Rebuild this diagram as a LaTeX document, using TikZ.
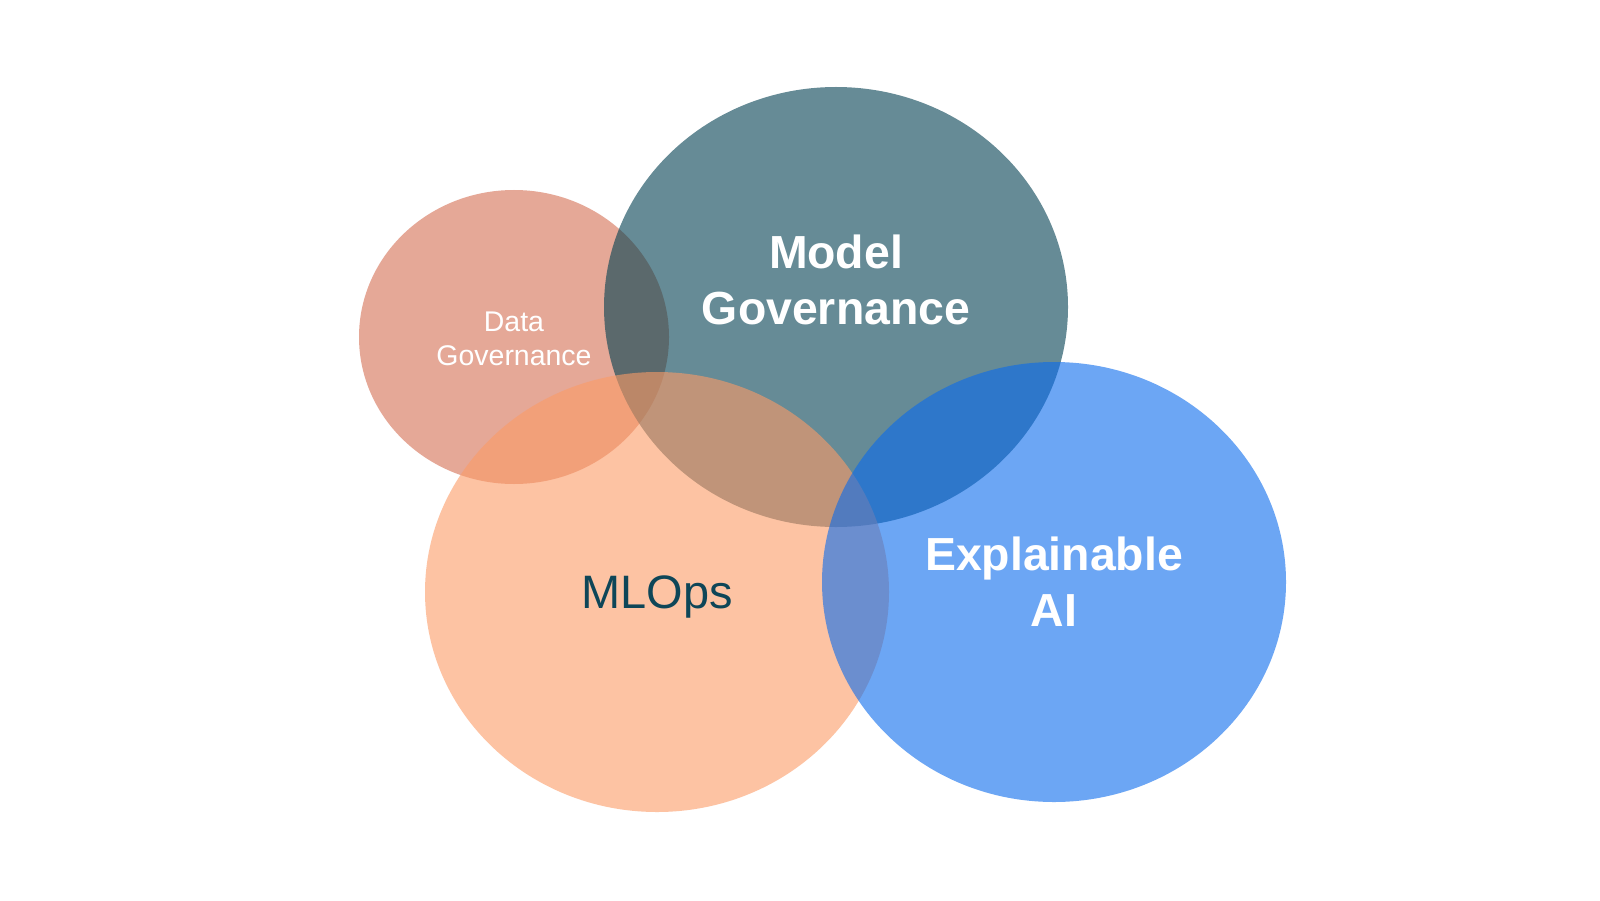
\documentclass[tikz,border=0pt]{standalone}
\usepackage{fontspec}
\setmainfont{Liberation Sans}
\usepackage{tikz}
\usetikzlibrary{positioning,shapes.geometric}

\definecolor{dgov}{RGB}{213,110,83}
\definecolor{mgov}{RGB}{0,63,80}
\definecolor{mlops}{RGB}{252,155,102}
\definecolor{xai}{RGB}{10,107,237}
\definecolor{mltext}{RGB}{14,70,88}

\tikzset{
  blob/.style={ellipse, draw=none, inner sep=0pt, fill opacity=0.6},
  bigblob/.style={blob, minimum width=4.64cm, minimum height=4.40cm},
  biglbl/.style={align=center, text=white, font=\fontsize{13.2}{15.9}\selectfont\bfseries},
}

\begin{document}
\begin{tikzpicture}
\fill[white] (0,0) rectangle (16,9);
\useasboundingbox (0,0) rectangle (16,9);
% 1 unit = 1 cm = 100 px of the 1600 x 900 frame
\node[blob, fill=dgov, minimum width=3.10cm, minimum height=2.94cm] (dg) at (5.14,5.63) {};
\node[bigblob, fill=mgov] (mg) at (8.36,5.93) {};
\node[bigblob, fill=mlops] (ml) at (6.57,3.08) {};
\node[bigblob, fill=xai] (xa) at (10.54,3.18) {};
% labels
\node[align=center, text=white, font=\fontsize{8.1}{9.8}\selectfont] (dgl) at (5.14,5.61) {Data\\Governance};
\node[biglbl] (mgl) at (8.36,6.20) {Model\\Governance};
\node[font=\fontsize{13.35}{16}\selectfont, text=mltext] (mll) at (6.57,3.03) {MLOps};
\node[biglbl] (xal) at (10.54,3.18) {Explainable\\AI};
\end{tikzpicture}
\end{document}
